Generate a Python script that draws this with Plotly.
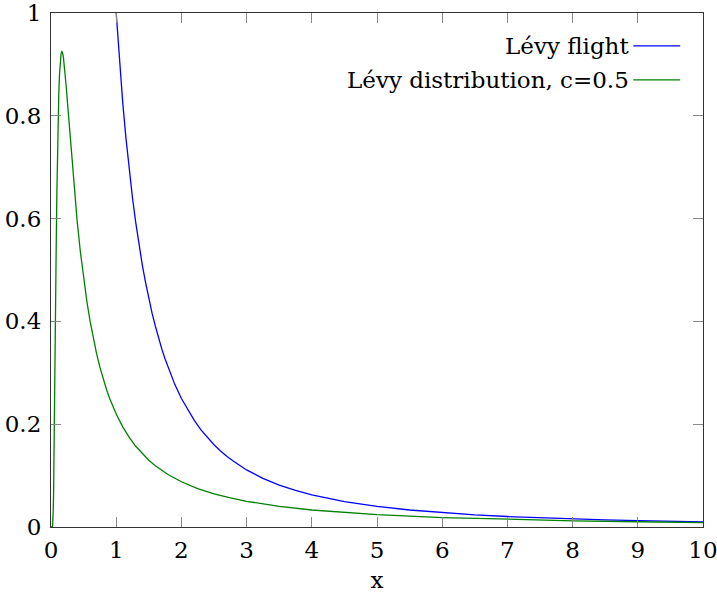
import plotly.graph_objects as go

# Lévy flight (power-law tail)
flight_x = [1.0, 1.025, 1.05, 1.075, 1.1, 1.15, 1.2, 1.25, 1.3, 1.35, 1.4, 1.45,
            1.5, 1.55, 1.6, 1.65, 1.7, 1.75, 1.8, 1.9, 2.0, 2.1, 2.2, 2.3, 2.4,
            2.5, 2.6, 2.7, 2.8, 2.9, 3.0, 3.25, 3.5, 3.75, 4.0, 4.5, 5.0, 5.5,
            6.0, 6.5, 7.0, 7.5, 8.0, 8.5, 9.0, 9.5, 10.0]
flight_y = [1.0, 0.952, 0.907, 0.865, 0.826, 0.756, 0.694, 0.640, 0.592, 0.549,
            0.510, 0.476, 0.444, 0.416, 0.391, 0.367, 0.346, 0.327, 0.309,
            0.277, 0.250, 0.227, 0.207, 0.189, 0.174, 0.160, 0.148, 0.137,
            0.128, 0.119, 0.111, 0.0947, 0.0816, 0.0711, 0.0625, 0.0494,
            0.0400, 0.0331, 0.0278, 0.0237, 0.0204, 0.0178, 0.0156, 0.0138,
            0.0123, 0.0111, 0.0100]

# Lévy distribution, c = 0.5
dist_x = [0.0, 0.01, 0.02, 0.025, 0.03, 0.035, 0.04, 0.045, 0.05, 0.06, 0.07,
          0.08, 0.09, 0.10, 0.11, 0.12, 0.13, 0.14, 0.155, 0.1667, 0.175, 0.19,
          0.205, 0.22, 0.235, 0.25, 0.275, 0.30, 0.325, 0.35, 0.375, 0.40,
          0.45, 0.50, 0.55, 0.60, 0.65, 0.70, 0.75, 0.80, 0.85, 0.90, 0.95,
          1.0, 1.1, 1.2, 1.3, 1.4, 1.5, 1.6, 1.75, 1.8, 2.0, 2.25, 2.5, 2.75,
          3.0, 3.25, 3.5, 4.0, 4.5, 5.0, 6.0, 7.0, 8.0, 9.0, 10.0]
dist_y = [0.0, 0.0, 0.0004, 0.0032, 0.0130, 0.0340, 0.0681, 0.114, 0.170,
          0.2975, 0.428, 0.548, 0.650, 0.732, 0.797, 0.845, 0.880, 0.903,
          0.921, 0.925, 0.924, 0.914, 0.898, 0.878, 0.855, 0.830, 0.788,
          0.746, 0.706, 0.667, 0.631, 0.597, 0.536, 0.484, 0.439, 0.400,
          0.366, 0.337, 0.311, 0.288, 0.268, 0.250, 0.234, 0.2197, 0.1948,
          0.1742, 0.1570, 0.1424, 0.1300, 0.1192, 0.1056, 0.1017, 0.0880,
          0.0748, 0.0646, 0.0565, 0.0500, 0.0446, 0.0401, 0.0331, 0.0280,
          0.0240, 0.0184, 0.0147, 0.0121, 0.0102, 0.0087]

x_ticks = [0, 1, 2, 3, 4, 5, 6, 7, 8, 9, 10]
y_ticks = [0, 0.2, 0.4, 0.6, 0.8, 1]
y_tick_labels = ["0", "0.2", "0.4", "0.6", "0.8", "1"]
legend_names = ["Lévy flight", "Lévy distribution, c=0.5"]
colors = ["#0000ff", "#008000"]

FONT = "DejaVu Serif"
FS = 23

fig = go.Figure()
fig.add_trace(go.Scatter(x=flight_x, y=flight_y, mode="lines",
                         line=dict(color=colors[0], width=1.3),
                         name=legend_names[0], showlegend=False))
fig.add_trace(go.Scatter(x=dist_x, y=dist_y, mode="lines",
                         line=dict(color=colors[1], width=1.3),
                         name=legend_names[1], showlegend=False))

# Legend drawn pgfplots-style: right-aligned text with line sample on the right
legend_y = [0.936, 0.870]
for name, col, ly in zip(legend_names, colors, legend_y):
    fig.add_annotation(x=0.886, y=ly, xref="paper", yref="paper",
                       text=name, showarrow=False, xanchor="right",
                       yanchor="middle", xshift=2,
                       font=dict(family=FONT, size=FS, color="#000"))
    fig.add_shape(type="line", xref="paper", yref="paper",
                  x0=0.893, x1=0.965, y0=ly, y1=ly,
                  line=dict(color=col, width=1.3))

axis_common = dict(
    showgrid=False, zeroline=False, showline=True, linecolor="#333",
    linewidth=1.2, mirror="ticks", ticks="inside", ticklen=10,
    tickcolor="#888", tickwidth=1, automargin=False,
    ticklabeloverflow="allow",
    tickfont=dict(family=FONT, size=FS, color="#000"),
)

fig.update_layout(
    width=717, height=594,
    margin=dict(l=51, r=14, t=13, b=67),
    paper_bgcolor="white", plot_bgcolor="white",
    xaxis=dict(range=[0, 10], tickvals=x_ticks, ticklabelstandoff=2,
               title=dict(text="x", font=dict(family=FONT, size=FS, color="#000"),
                          standoff=10),
               **axis_common),
    yaxis=dict(range=[0, 1], tickvals=y_ticks, ticktext=y_tick_labels,
               ticklabelstandoff=4, **axis_common),
)

fig.write_html("out.html")
